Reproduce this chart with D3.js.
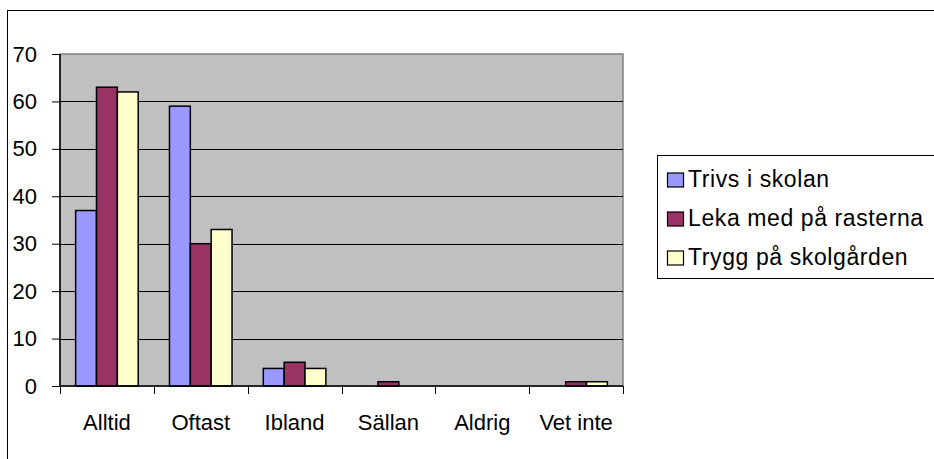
<!DOCTYPE html>
<html>
<head>
  <meta charset="utf-8">
  <style>
  body { margin: 0; background: #fff; }
  #chart svg { font-family: "Liberation Sans", Arial, sans-serif; }
  </style>
</head>
<body>
  <script src="https://d3js.org/d3.v7.min.js"></script>
  <div id="chart"></div>
  <script>
    // data
    const categories = ['Alltid', 'Oftast', 'Ibland', 'Sällan', 'Aldrig', 'Vet inte'];
    const seriesNames = ['Trivs i skolan', 'Leka med på rasterna', 'Trygg på skolgården'];
    const trivs = [37, 59, 3.7, 0, 0, 0];
    const leka = [63, 30, 5, 0.9, 0, 0.9];
    const trygg = [62, 33, 3.7, 0, 0, 0.9];
    const yTicks = [0, 10, 20, 30, 40, 50, 60, 70];
    const colors = ['#9999ff', '#993366', '#ffffcc'];

    const values = [trivs, leka, trygg];
    const width = 934, height = 459;
    const plot = {left: 60, top: 54, right: 623, bottom: 386};
    const font = '"Liberation Sans", Arial, sans-serif';

    const svg = d3.select('#chart').append('svg')
      .attr('width', width)
      .attr('height', height);

    // outer chart border
    svg.append('rect')
      .attr('x', 7.5).attr('y', 10.5)
      .attr('width', 1000).attr('height', 1000)
      .attr('fill', '#fff')
      .attr('stroke', '#000')
      .attr('stroke-width', 1);

    const x0 = d3.scaleBand()
      .domain(categories)
      .range([plot.left, plot.right]);

    const x1 = d3.scaleBand()
      .domain(seriesNames)
      .range([0, x0.bandwidth()])
      .paddingInner(0)
      .paddingOuter(0.75);

    const y = d3.scaleLinear()
      .domain([0, 70])
      .range([plot.bottom, plot.top]);

    // plot area
    svg.append('rect')
      .attr('x', plot.left).attr('y', plot.top)
      .attr('width', plot.right - plot.left)
      .attr('height', plot.bottom - plot.top)
      .attr('fill', '#c0c0c0')
      .attr('stroke', '#808080')
      .attr('stroke-width', 1.5);

    // gridlines
    svg.append('g')
      .selectAll('line')
      .data(yTicks.filter(d => d > 0 && d < 70))
      .join('line')
      .attr('x1', plot.left).attr('x2', plot.right)
      .attr('y1', d => Math.round(y(d)) + 0.5)
      .attr('y2', d => Math.round(y(d)) + 0.5)
      .attr('stroke', '#000')
      .attr('stroke-width', 1);

    // bars
    const rows = categories.map((c, i) => ({cat: c, vals: values.map((v, j) => ({name: seriesNames[j], value: v[i], color: colors[j]}))}));
    svg.append('g')
      .selectAll('g')
      .data(rows)
      .join('g')
      .attr('transform', d => `translate(${x0(d.cat)},0)`)
      .selectAll('rect')
      .data(d => d.vals.filter(v => v.value > 0))
      .join('rect')
      .attr('x', d => x1(d.name))
      .attr('y', d => y(d.value))
      .attr('width', x1.bandwidth())
      .attr('height', d => y(0) - y(d.value))
      .attr('fill', d => d.color)
      .attr('stroke', '#000')
      .attr('stroke-width', 1.5);

    // y axis
    const yAxis = svg.append('g')
      .attr('transform', `translate(${plot.left},0)`)
      .call(d3.axisLeft(y).tickValues(yTicks).tickSize(8).tickPadding(15).tickFormat(d3.format('d')));
    yAxis.select('.domain').attr('stroke', '#000').attr('stroke-width', 1.5)
      .attr('d', `M0,${plot.top}V${plot.bottom}`);
    yAxis.selectAll('.tick line').attr('stroke', '#000');
    yAxis.selectAll('.tick text')
      .style('font-family', font)
      .style('font-size', '22px')
      .attr('fill', '#000');

    // x axis
    const xAxis = svg.append('g')
      .attr('transform', `translate(0,${plot.bottom})`)
      .call(d3.axisBottom(x0).tickSize(0).tickPadding(0));
    xAxis.select('.domain').attr('stroke', '#000').attr('stroke-width', 1.5)
      .attr('d', `M${plot.left},0H${plot.right}`);
    xAxis.selectAll('.tick text')
      .attr('y', 44)
      .attr('dy', null)
      .style('font-family', font)
      .style('font-size', '22px')
      .attr('fill', '#000');
    // category boundary ticks
    xAxis.append('g')
      .selectAll('line')
      .data(categories.map(c => x0(c)).concat([plot.right]))
      .join('line')
      .attr('x1', d => Math.round(d) + 0.5).attr('x2', d => Math.round(d) + 0.5)
      .attr('y1', 0).attr('y2', 8)
      .attr('stroke', '#000');

    // legend
    const legend = svg.append('g');
    legend.append('rect')
      .attr('x', 657.5).attr('y', 155.5)
      .attr('width', 400).attr('height', 123)
      .attr('fill', '#fff')
      .attr('stroke', '#000')
      .attr('stroke-width', 1);
    const items = legend.selectAll('g.item')
      .data(seriesNames)
      .join('g')
      .attr('class', 'item')
      .attr('transform', (d, i) => `translate(667,${177 + i * 39})`);
    items.append('rect')
      .attr('x', 0.5).attr('y', -4)
      .attr('width', 16).attr('height', 14)
      .attr('fill', (d, i) => colors[i])
      .attr('stroke', '#000')
      .attr('stroke-width', 1.2);
    items.append('text')
      .attr('x', 21).attr('y', 10)
      .style('font-family', font)
      .style('font-size', '23px')
      .style('letter-spacing', '0.6px')
      .text(d => d);
  </script>
</body>
</html>
